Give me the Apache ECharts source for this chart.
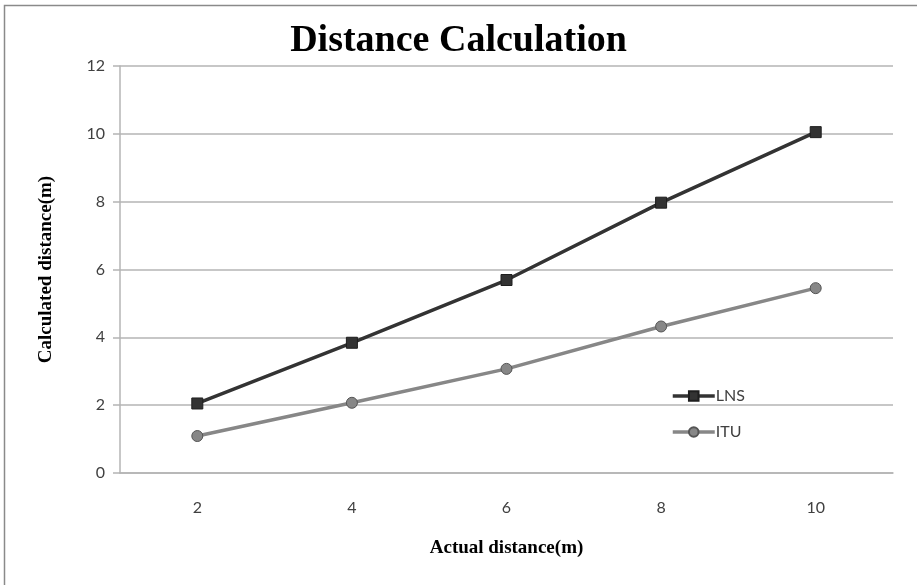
<!DOCTYPE html>
<html>
<head>
<meta charset="utf-8">
<title>Distance Calculation</title>
<script src="https://cdn.jsdelivr.net/npm/echarts@6/dist/echarts.min.js"></script>
<style>
  html, body { margin: 0; padding: 0; background: #fff; }
  #chart { width: 917px; height: 585px; }
</style>
</head>
<body>
<div id="chart"></div>
<script>
    // data
    var categories = ['2', '4', '6', '8', '10'];
    var lnsValues = [2.05, 3.84, 5.69, 7.97, 10.05];
    var ituValues = [1.09, 2.07, 3.07, 4.32, 5.45];
    var yTicks = [0, 2, 4, 6, 8, 10, 12];

    var chart = echarts.init(document.getElementById('chart'), null, {
        renderer: 'canvas'
    });

    var gridColor = '#b4b4b4';
    var labelColor = '#404040';

    chart.setOption({
        backgroundColor: '#fff',
        animation: false,
        graphic: [
            {
                // frame, only top and left edges show in the picture
                type: 'polyline',
                shape: { points: [[4.5, 600], [4.5, 5.5], [930, 5.5]] },
                style: { stroke: '#8a8a8a', lineWidth: 1.5, fill: null }
            }
        ],
        title: {
            text: 'Distance Calculation',
            left: 'center',
            top: 17,
            textStyle: {
                fontFamily: 'Liberation Serif',
                fontWeight: 'bold',
                fontSize: 38,
                color: '#000'
            }
        },
        legend: {
            orient: 'vertical',
            left: 666,
            top: 383,
            itemWidth: 42,
            itemHeight: 12,
            itemGap: 20,
            lineStyle: { width: 3.5 },
            textStyle: {
                fontFamily: 'Lato',
                fontSize: 16,
                color: labelColor,
                padding: [0, 0, 0, -4]
            },
            data: ['LNS', 'ITU']
        },
        grid: {
            left: 120,
            right: 24,
            top: 66,
            bottom: 112
        },
        xAxis: [
            {
                type: 'category',
                data: categories,
                boundaryGap: true,
                name: 'Actual distance(m)',
                nameLocation: 'middle',
                nameGap: 66,
                nameTextStyle: {
                    fontFamily: 'Liberation Serif',
                    fontWeight: 'bold',
                    fontSize: 19,
                    color: '#000'
                },
                axisTick: { show: false },
                axisLine: {
                    lineStyle: { color: gridColor, width: 1.5 }
                },
                axisLabel: {
                    margin: 27,
                    fontFamily: 'Lato',
                    fontSize: 16,
                    color: labelColor
                },
                splitLine: { show: false }
            }
        ],
        yAxis: [
            {
                type: 'value',
                min: yTicks[0],
                max: yTicks[yTicks.length - 1],
                interval: 2,
                name: 'Calculated distance(m)',
                nameLocation: 'middle',
                nameGap: 64,
                nameTextStyle: {
                    fontFamily: 'Liberation Serif',
                    fontWeight: 'bold',
                    fontSize: 19,
                    color: '#000'
                },
                axisLine: {
                    show: true,
                    lineStyle: { color: gridColor, width: 1.5 }
                },
                axisTick: {
                    show: true,
                    length: 7,
                    lineStyle: { color: gridColor, width: 1.5 }
                },
                axisLabel: {
                    margin: 15,
                    fontFamily: 'Lato',
                    fontSize: 16,
                    color: labelColor
                },
                splitLine: {
                    show: true,
                    lineStyle: { color: gridColor, width: 1.5 }
                }
            }
        ],
        series: [
            {
                name: 'LNS',
                type: 'line',
                data: lnsValues,
                symbol: 'rect',
                symbolSize: 11,
                lineStyle: { color: '#333333', width: 3.5 },
                itemStyle: {
                    color: '#333333',
                    borderColor: '#1e1e1e',
                    borderWidth: 1
                }
            },
            {
                name: 'ITU',
                type: 'line',
                data: ituValues,
                symbol: 'circle',
                symbolSize: 11,
                lineStyle: { color: '#878787', width: 3.5 },
                itemStyle: {
                    color: '#878787',
                    borderColor: '#555555',
                    borderWidth: 1
                }
            }
        ]
    });
</script>
</body>
</html>
